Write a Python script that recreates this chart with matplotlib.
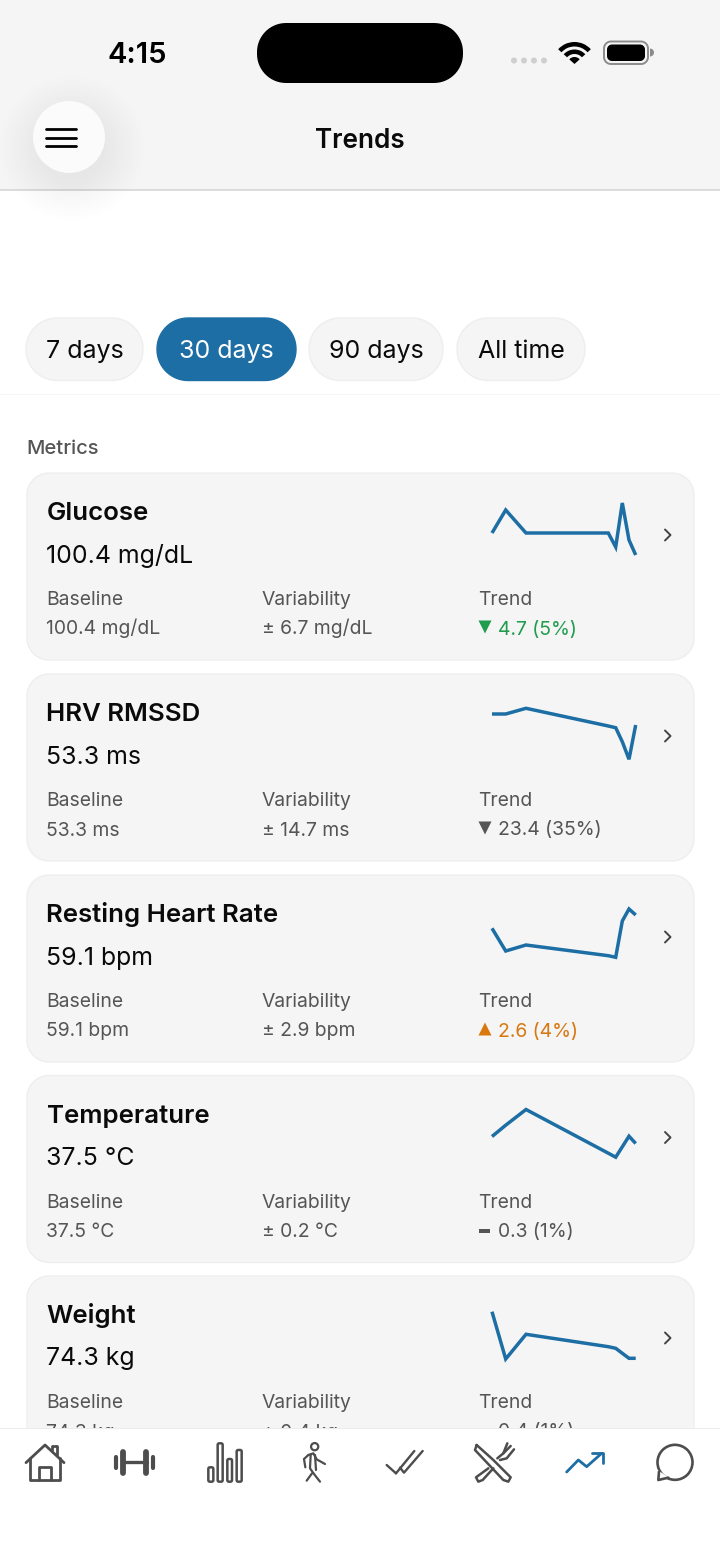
import matplotlib
matplotlib.use("Agg")
import matplotlib.pyplot as plt
import numpy as np
from matplotlib.patches import Circle, Rectangle, Polygon, Wedge

plt.rcParams['font.family'] = ['Inter', 'DejaVu Sans']

W, H = 720, 1564
BLUE = '#1c6ea4'
GREY_TXT = '#555555'
ICON = '#4d4d4d'

periods = ['7 days', '30 days', '90 days', 'All time']
selected_period = '30 days'

metric_names = ['Glucose', 'HRV RMSSD', 'Resting Heart Rate', 'Temperature', 'Weight']
metric_values = ['100.4 mg/dL', '53.3 ms', '59.1 bpm', '37.5 °C', '74.3 kg']
baselines = ['100.4 mg/dL', '53.3 ms', '59.1 bpm', '37.5 °C', '74.3 kg']
variability = ['± 6.7 mg/dL', '± 14.7 ms', '± 2.9 bpm', '± 0.2 °C', '± 0.4 kg']
trend_values = ['4.7 (5%)', '23.4 (35%)', '2.6 (4%)', '0.3 (1%)', '0.4 (1%)']
trend_dirs = ['down', 'down', 'up', 'flat', 'flat']
trend_colors = ['#1f9d4d', '#555555', '#d9780f', '#555555', '#555555']

# sparkline values (same sample positions for every card)
spark_x = [0, 13.7, 34, 116.3, 123.7, 130.3, 137, 143.7]
glucose_line = [27, 50, 27, 27, 13, 57, 20, 5]
hrv_line = [47, 47, 52.7, 35, 33.3, 19.3, 1.7, 36]
rhr_line = [33.7, 11, 17, 6.3, 4.7, 41, 53, 47]
temp_line = [26, 37.3, 53, 9.3, 5.3, 15.7, 26.3, 19]
weight_line = [51.3, 4, 28.7, 16.3, 14.7, 9.7, 4.7, 4.7]
spark_lines = [glucose_line, hrv_line, rhr_line, temp_line, weight_line]

fig = plt.figure(figsize=(W / 100, H / 100), dpi=100, facecolor='white')
ax = fig.add_axes([0, 0, 1, 1])
ax.set_xlim(0, W)
ax.set_ylim(H, 0)
ax.axis('off')


def round_box(x0, y0, x1, y1, r, fc, ec='none', lw=0, z=2):
    # true circular corners, FancyBboxPatch corners come out too square
    pts = []
    corners = [(x1 - r, y0 + r, -90), (x1 - r, y1 - r, 0), (x0 + r, y1 - r, 90), (x0 + r, y0 + r, 180)]
    for cx, cy, a0 in corners:
        t = np.radians(np.linspace(a0, a0 + 90, 16))
        pts.extend(zip(cx + r * np.cos(t), cy + r * np.sin(t)))
    p = Polygon(pts, closed=True, fc=fc, ec=ec, lw=lw, zorder=z)
    ax.add_patch(p)
    return p


def line(xs, ys, c=ICON, lw=2.0, z=12, cap='round'):
    ax.plot(xs, ys, color=c, lw=lw, solid_capstyle=cap, solid_joinstyle='round', zorder=z)


def zl(ox, pts, c=ICON, lw=2.0, z=12):
    # icon points measured on the 3x zoom crops
    xs = [ox + p[0] / 3 for p in pts]
    ys = [1390 + p[1] / 3 for p in pts]
    line(xs, ys, c, lw, z)


# header
ax.add_patch(Rectangle((0, 0), W, 189, fc='#f5f5f5', ec='none', zorder=1))
ax.add_patch(Rectangle((0, 189), W, 2, fc='#dcdcdc', ec='none', zorder=1))
ax.text(137, 55.5, '4:15', fontsize=21, fontweight='semibold', ha='center', va='center', color='#000000', zorder=5)
ax.text(360, 140.5, 'Trends', fontsize=18.8, fontweight='semibold', ha='center', va='center', color='#0a0a0a', zorder=5)
round_box(257, 23, 463, 83, 29, '#000000', z=5)

for i in range(4):
    ax.add_patch(Circle((514 + i * 10, 60.5), 3, fc='#cfcfcf', ec='none', zorder=5))

# wifi
for r, w in [(22, 4.5), (14.5, 4.5), (7, 7)]:
    ax.add_patch(Wedge((574.5, 64), r, 222, 318, width=w, fc='#000000', ec='none', zorder=5))

# battery
round_box(604, 41.5, 648, 64, 7, 'none', ec='#8c8c8c', lw=1.4, z=5)
round_box(607, 44.5, 645, 61, 5, '#000000', z=5)
ax.add_patch(Wedge((650, 52.5), 4, 270, 90, fc='#8c8c8c', ec='none', zorder=5))

# menu button with soft shadow
for i in range(14):
    ax.add_patch(Circle((72, 148), 72 - i * 3, fc='#000000', ec='none', alpha=0.002, zorder=3))
ax.add_patch(Circle((69, 137), 36, fc='#fbfbfb', ec='none', zorder=4))
for yy in [129, 137.5, 146]:
    line([46, 76], [yy, yy], c='#000000', lw=2.0, z=5)

# period pills
pill_x = [(26, 143), (157, 296), (309, 443), (457, 585)]
for name, (x0, x1) in zip(periods, pill_x):
    on = name == selected_period
    round_box(x0, 318, x1, 380.5, 31, BLUE if on else '#f5f5f5', ec=BLUE if on else '#eeeeee', lw=1)
    ax.text((x0 + x1) / 2, 351.5, name, fontsize=18, ha='center', va='center',
            color='white' if on else '#0a0a0a', zorder=5)
ax.add_patch(Rectangle((0, 393.5), W, 1.5, fc='#f5f5f5', ec='none', zorder=1))
ax.text(26, 449, 'Metrics', fontsize=14.5, fontweight='medium', ha='left', va='center', color=GREY_TXT, zorder=5)

# metric cards
card_tops = [473, 674, 875, 1075.5, 1276]
for i, top in enumerate(card_tops):
    round_box(27, top, 694, top + 187, 22, '#f5f5f5', ec='#eeeeee', lw=1)
    ax.text(46.5, top + 47, metric_names[i], fontsize=18.6, fontweight='semibold', ha='left', va='baseline',
            color='#0a0a0a', zorder=5)
    ax.text(46.5, top + 89.5, metric_values[i], fontsize=17.9, ha='left', va='baseline', color='#0a0a0a', zorder=5)
    ax.text(46.5, top + 132, 'Baseline', fontsize=13.9, ha='left', va='baseline', color=GREY_TXT, zorder=5)
    ax.text(46.5, top + 161.5, baselines[i], fontsize=13.9, ha='left', va='baseline', color=GREY_TXT, zorder=5)
    ax.text(262, top + 132, 'Variability', fontsize=13.9, ha='left', va='baseline', color=GREY_TXT, zorder=5)
    ax.text(262, top + 161.5, variability[i], fontsize=13.9, ha='left', va='baseline', color=GREY_TXT, zorder=5)
    ax.text(478, top + 132, 'Trend', fontsize=13.9, ha='left', va='baseline', color=GREY_TXT, zorder=5)
    ax.text(498, top + 161.5, trend_values[i], fontsize=13.9, ha='left', va='baseline', color=trend_colors[i], zorder=5)

    my = top + 154
    if trend_dirs[i] == 'down':
        ax.add_patch(Polygon([(478.5, my - 6.5), (491.5, my - 6.5), (485, my + 6.5)], fc=trend_colors[i], ec='none', zorder=5))
    elif trend_dirs[i] == 'up':
        ax.add_patch(Polygon([(478.5, my + 6.5), (491.5, my + 6.5), (485, my - 6.5)], fc=trend_colors[i], ec='none', zorder=5))
    else:
        ax.add_patch(Rectangle((479, my - 1), 11, 4, fc=trend_colors[i], ec='none', zorder=5))

    # chevron
    line([665, 670.5, 665], [top + 56.5, top + 62, top + 67.5], c='#444444', lw=1.4, z=5)

    # sparkline
    sx = fig.add_axes([492 / W, 1 - (top + 87) / H, 144 / W, 60 / H], zorder=2)
    sx.patch.set_alpha(0)
    sx.axis('off')
    sx.set_xlim(0, 144)
    sx.set_ylim(0, 60)
    sx.plot(spark_x, spark_lines[i], color=BLUE, lw=2.5, solid_joinstyle='miter', solid_capstyle='butt', clip_on=False)

# bottom tab bar, hides the clipped last card
ax.add_patch(Rectangle((0, 1428), W, H - 1428, fc='white', ec='none', zorder=10))
ax.add_patch(Rectangle((0, 1428), W, 1, fc='#ececec', ec='none', zorder=11))

# home
zl(0, [(78, 218), (135, 165), (192, 218)])
zl(0, [(90, 205), (90, 270), (180, 270), (180, 205)])
zl(0, [(118, 270), (118, 230), (152, 230), (152, 270)])
zl(0, [(157, 180), (157, 168), (172, 168), (172, 195)])

# dumbbell
zl(0, [(368, 217), (440, 217)], lw=2.4)
zl(0, [(368, 187), (368, 248)], lw=4.2)
zl(0, [(438, 187), (438, 248)], lw=4.2)
zl(0, [(349, 201), (349, 233)], lw=3.0)
zl(0, [(458, 201), (458, 233)], lw=3.0)

# bars
for x0, x1, y0 in [(625, 640, 232), (653, 668, 160), (682, 696, 207), (710, 725, 180)]:
    round_box(x0 / 3, 1390 + y0 / 3, x1 / 3, 1390 + 275 / 3, 1.5, 'none', ec=ICON, lw=1.8, z=12)

# walker
ax.add_patch(Circle((944 / 3, 1390 + 170 / 3), 3.6, fc='none', ec=ICON, lw=1.6, zorder=12))
zl(0, [(925, 195), (912, 207), (916, 232)], lw=1.6)
zl(0, [(925, 195), (940, 190), (950, 208), (975, 222)], lw=1.6)
zl(0, [(932, 195), (930, 235), (942, 252), (960, 275)], lw=1.6)
zl(0, [(945, 195), (948, 240)], lw=1.6)
zl(0, [(936, 250), (920, 272)], lw=1.6)

# double check
zl(360, [(80, 225), (108, 250)], lw=1.7)
zl(360, [(120, 233), (132, 248), (188, 183)], lw=1.7)
zl(360, [(108, 250), (163, 183)], lw=1.7)

# knife and fork
zl(360, [(350, 165), (345, 180), (430, 270), (445, 275), (452, 262), (400, 210), (350, 165)], lw=1.8)
zl(360, [(385, 235), (348, 262), (355, 275), (368, 270), (400, 235)], lw=1.8)
zl(360, [(412, 205), (430, 190), (442, 160)], lw=1.8)
zl(360, [(420, 210), (440, 205), (462, 178)], lw=1.8)
zl(360, [(430, 190), (452, 168)], lw=1.8)

# trend arrow
zl(360, [(620, 246), (655, 210), (680, 230), (725, 190)], c=BLUE, lw=2.0)
zl(360, [(695, 188), (728, 188), (728, 220)], c=BLUE, lw=2.0)

# chat bubble
ax.add_patch(Circle((360 + 945 / 3, 1390 + 217 / 3), 17.5, fc='none', ec=ICON, lw=1.9, zorder=12))
ax.add_patch(Polygon([(360 + 893 / 3, 1390 + 240 / 3), (360 + 895 / 3, 1390 + 270 / 3), (360 + 925 / 3, 1390 + 262 / 3)],
                     fc='white', ec='none', zorder=13))
line([360 + 897 / 3, 360 + 895 / 3, 360 + 925 / 3], [1390 + 245 / 3, 1390 + 270 / 3, 1390 + 263 / 3], lw=1.9, z=14)

fig.savefig('out.png', dpi=100)
